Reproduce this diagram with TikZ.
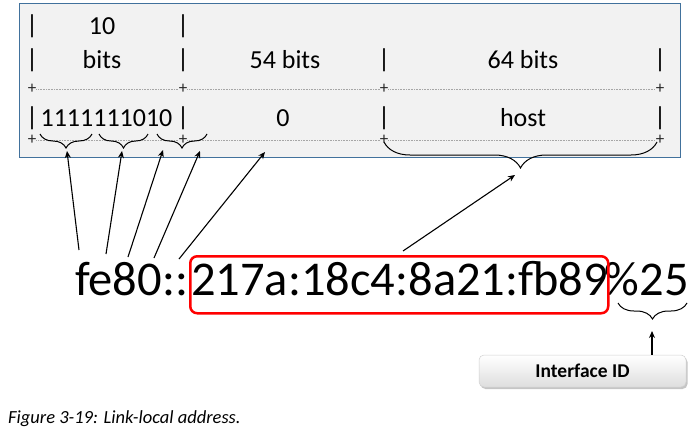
\documentclass[tikz,border=0pt]{standalone}
\usepackage{fontspec}
\setmainfont{Carlito}
\newfontfamily\tblfont{Carlito}
\usetikzlibrary{decorations.pathreplacing,shadows,arrows.meta}
\definecolor{boxfill}{HTML}{F2F2F2}
\definecolor{boxline}{HTML}{41719C}
\definecolor{dotgray}{HTML}{A6A6A6}
\definecolor{idline}{HTML}{D0D0D0}
\begin{document}
\begin{tikzpicture}[x=1pt,y=-1pt,
  tbl/.style={inner sep=0pt,font=\tblfont\fontsize{26}{30}\selectfont},
  plus/.style={inner sep=0pt,text=black!85,font=\fontsize{17}{19}\selectfont},
  dotl/.style={dotgray,densely dotted,line width=0.6pt},
  brc/.style={decorate,decoration={brace,mirror,amplitude=#1},line width=1pt},
  arr/.style={-{Stealth[length=7pt,width=6pt]},line width=1.1pt},
  big/.style={anchor=base west,inner sep=0pt,font=\fontsize{48.5}{56}\selectfont},
  ]
\useasboundingbox (0,0) rectangle (696,431);
% table box
\draw[boxline,fill=boxfill,line width=0.8pt] (19,3) rectangle (680,157);
% row 1
\node[tbl] (p11) at (32,26) {|};
\node[tbl] (t10) at (102,26) {10};
\node[tbl] (p12) at (183,26) {|};
% row 2
\node[tbl] (p21) at (32,60) {|};
\node[tbl] (tbits) at (102,60) {bits};
\node[tbl] (p22) at (183,60) {|};
\node[tbl] (t54) at (285,60) {54 bits};
\node[tbl] (p23) at (384,60) {|};
\node[tbl] (t64) at (523,60) {64 bits};
\node[tbl] (p24) at (660,60) {|};
% separator 1
\node[plus] (a1) at (32,89) {+};
\node[plus] (a2) at (183,89) {+};
\node[plus] (a3) at (384,89) {+};
\node[plus] (a4) at (660,89) {+};
\draw[dotl] (a1) -- (a2) -- (a3) -- (a4);
% row 3
\node[tbl] (p31) at (32,118) {|};
\node[tbl] (tdig) at (106.5,118) {1111111010};
\node[tbl] (p32) at (183,118) {|};
\node[tbl] (tzero) at (283,118) {0};
\node[tbl] (p33) at (384,118) {|};
\node[tbl] (thost) at (523,118) {host};
\node[tbl] (p34) at (660,118) {|};
% separator 2
\node[plus] (b1) at (32,140) {+};
\node[plus] (b2) at (183,140) {+};
\node[plus] (b3) at (384,140) {+};
\node[plus] (b4) at (660,140) {+};
\draw[dotl] (b1) -- (b2) -- (b3) -- (b4);
% braces
\draw[brc=14pt] (40,134) -- (92,134);
\draw[brc=14pt] (99,134) -- (148,134);
\draw[brc=14pt] (157,134) -- (207,134);
\draw[brc=26pt] (384,142) -- (657,142);
% address
\node[big] (addr1) at (75,295) {fe80::};
\node[big] (addr2) at (191,295) {217a:18c4:8a21:fb89};
\node[big,anchor=base east] (addr3) at (689,295) {\%25};
\node[draw=red,line width=2.5pt,rounded corners=7pt,minimum width=418pt,minimum height=57pt,anchor=north west,inner sep=0pt] (hostbox) at (189,255) {};
% arrow coordinates
\coordinate (s1) at (79,250);
\coordinate (s2) at (106,254);
\coordinate (s3) at (128,257);
\coordinate (s4) at (154,258);
\coordinate (s5) at (179,259);
\coordinate (e1) at (67,151);
\coordinate (e2) at (122,151);
\coordinate (e3) at (163,150);
\coordinate (e4) at (200,151);
\coordinate (e5) at (265,152);
\coordinate (sh) at (403,251);
\coordinate (eh) at (515,175);
\draw[arr] (s1) -- (e1);
\draw[arr] (s2) -- (e2);
\draw[arr] (s3) -- (e3);
\draw[arr] (s4) -- (e4);
\draw[arr] (s5) -- (e5);
\draw[arr] (sh) -- (eh);
% interface id
\draw[brc=16pt] (618,303) -- (687,303);
\node[rounded corners=5pt,draw=idline,line width=0.5pt,top color=white,bottom color=idline!70,
  drop shadow={shadow xshift=1.5pt,shadow yshift=-2pt,fill=black!45},
  minimum width=207pt,minimum height=32pt,inner sep=0pt,
  font=\bfseries\fontsize{19.5}{22}\selectfont] (iid) at (582.5,371) {Interface ID};
\coordinate (ib) at (652,331);
\draw[arr] (iid.north -| ib) -- (ib);
% caption
\node[anchor=base west,inner sep=0pt,font=\itshape\fontsize{18.5}{21}\selectfont] (cap) at (8,423) {Figure 3-19: Link-local address.};
\end{tikzpicture}
\end{document}
